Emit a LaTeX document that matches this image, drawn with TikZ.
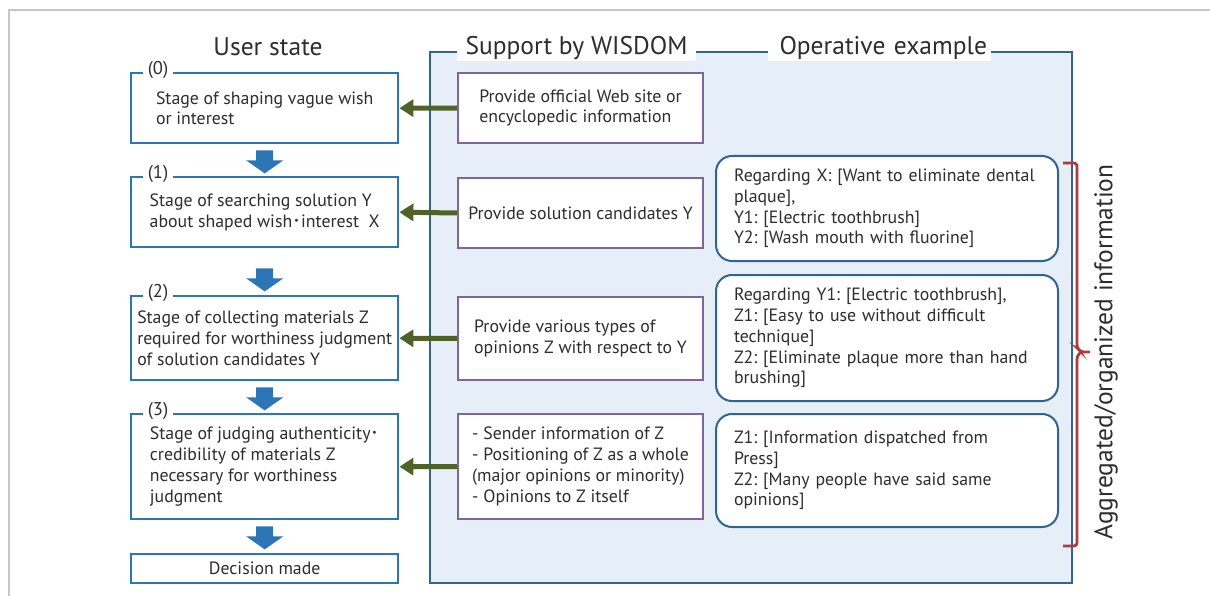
\documentclass[tikz,border=0pt]{standalone}
\usepackage{fontspec}
\setmainfont{PT Sans}
\newfontfamily\cjk{Noto Sans CJK JP}
\usetikzlibrary{arrows.meta}
\frenchspacing

\definecolor{textgray}{HTML}{2D2D2D}
\definecolor{stageblue}{HTML}{2E75B6}
\definecolor{supportpurple}{HTML}{8064A2}
\definecolor{panelfill}{HTML}{E6EEF7}
\definecolor{panelline}{HTML}{2F6493}
\definecolor{opgreen}{HTML}{4F6228}
\definecolor{bracered}{HTML}{B0393B}
\definecolor{framegray}{HTML}{C6C6CA}

\newcommand\bodyfont{\fontsize{17.8}{20.8}\selectfont}
\newcommand\headfont{\fontsize{25.5}{28}\selectfont}

\tikzset{
  stagebox/.style={draw=stageblue, line width=2.4pt, fill=white, rectangle,
    anchor=north west, minimum width=267pt, inner sep=2pt, align=left,
    text=textgray, font=\bodyfont},
  stagelabel/.style={fill=white, inner xsep=5pt, inner ysep=1pt,
    text=textgray, font=\fontsize{18.5}{20}\selectfont},
  supportbox/.style={draw=supportpurple, line width=2pt, fill=white, rectangle,
    anchor=north west, minimum width=245pt, inner sep=2pt, align=left,
    text=textgray, font=\bodyfont},
  exbox/.style={draw=panelline, line width=2pt, fill=white, rounded corners=16pt,
    anchor=north west, minimum width=342pt, text width=306pt, inner xsep=18pt,
    align=left, text=textgray, font=\bodyfont},
  panel/.style={draw=panelline, line width=2pt, fill=panelfill, anchor=north west,
    minimum width=642pt, minimum height=531pt, inner sep=0pt},
  head/.style={text=textgray, font=\headfont, inner sep=0pt},
  supportarrow/.style={opgreen, line width=5pt,
    -{Triangle[length=14pt,width=17pt]}},
  bracestyle/.style={bracered, line width=2.8pt, rounded corners=3pt},
  downarr/.pic={\fill[stageblue] (-8.5,0) -- (8.5,0) -- (8.5,10) -- (18.5,10)
    -- (0,23) -- (-18.5,10) -- (-8.5,10) -- cycle;}
}

\begin{document}
\begin{tikzpicture}[x=1pt,y=-1pt]
\useasboundingbox (0,0) rectangle (1210,596);
\draw[framegray, line width=2pt] (9,596) -- (9,10) -- (1210,10);

% WISDOM panel
\node[panel] (panel) at (429,51) {};
\node[head] (hUser) at (268,47) {User state};
\node[head, fill=white, minimum width=239pt, minimum height=26pt] (hSupport) at (576.5,48) {Support by WISDOM};
\node[head, fill=white, text width=215pt, inner xsep=4pt, align=right, minimum height=26pt] (hExample) at (879.5,48) {Operative example};

% user states
\node[stagebox, minimum height=70pt] (s0) at (130,72) {Stage of shaping vague wish\\or interest};
\node[stagebox, minimum height=70pt] (s1) at (130,176) {Stage of searching solution Y\\about shaped wish{\cjk ･}interest\ \ X};
\node[stagebox, minimum height=84pt] (s2) at (130,295) {Stage of collecting materials Z\\required for worthiness judgment\\of solution candidates Y};
\node[stagebox, minimum height=105pt] (s3) at (130,413) {Stage of judging authenticity{\cjk ･}\\credibility of materials Z\\necessary for worthiness\\judgment};
\node[stagebox, minimum height=29pt, align=center] (s4) at (130,553) {Decision made};

\node[stagelabel] (l0) at (158,70) {(0)};
\node[stagelabel] (l1) at (158,174) {(1)};
\node[stagelabel] (l2) at (158,293) {(2)};
\node[stagelabel] (l3) at (158,411) {(3)};

\pic at ([yshift=-6pt]s0.south) {downarr};
\pic at ([yshift=-20pt]s1.south) {downarr};
\pic at ([yshift=-6pt]s2.south) {downarr};
\pic at ([yshift=-6pt]s3.south) {downarr};

% support by WISDOM
\node[supportbox, minimum height=70pt] (p0) at (457,72) {Provide official Web site or\\encyclopedic information};
\node[supportbox, minimum height=70pt] (p1) at (457,177) {Provide solution candidates Y};
\node[supportbox, minimum height=83pt] (p2) at (457,296) {Provide various types of\\opinions Z with respect to Y};
\node[supportbox, minimum height=105pt] (p3) at (457,413) {- Sender information of Z\\- Positioning of Z as a whole\\(major opinions or minority)\\- Opinions to Z itself};

\draw[supportarrow] (p0.west) -- (s0.east);
\draw[supportarrow] (p1.west) -- (s1.east);
\draw[supportarrow] (p2.west) -- (s2.east);
\draw[supportarrow] (p3.west) -- (s3.east);

% operative examples
\node[exbox, minimum height=105pt] (e1) at (715,155) {Regarding X: [Want to eliminate dental\\plaque],\\Y1: [Electric toothbrush]\\Y2: [Wash mouth with fluorine]};
\node[exbox, minimum height=126pt] (e2) at (715,274) {Regarding Y1: [Electric toothbrush],\\Z1: [Easy to use without difficult\\technique]\\Z2: [Eliminate plaque more than hand\\brushing]};
\node[exbox, minimum height=113pt] (e3) at (715,413) {Z1: [Information dispatched from\\Press]\\Z2: [Many people have said same\\opinions]};

% aggregated bracket
\draw[bracestyle] (1063,163) -- (1077,163) -- (1077,348) -- (1081,352) -- (1090,352)
  (1081,352) -- (1077,356) -- (1077,546) -- (1063,546);
\node[head, rotate=90] (agg) at (1106,352) {Aggregated/organized information};
\end{tikzpicture}
\end{document}
